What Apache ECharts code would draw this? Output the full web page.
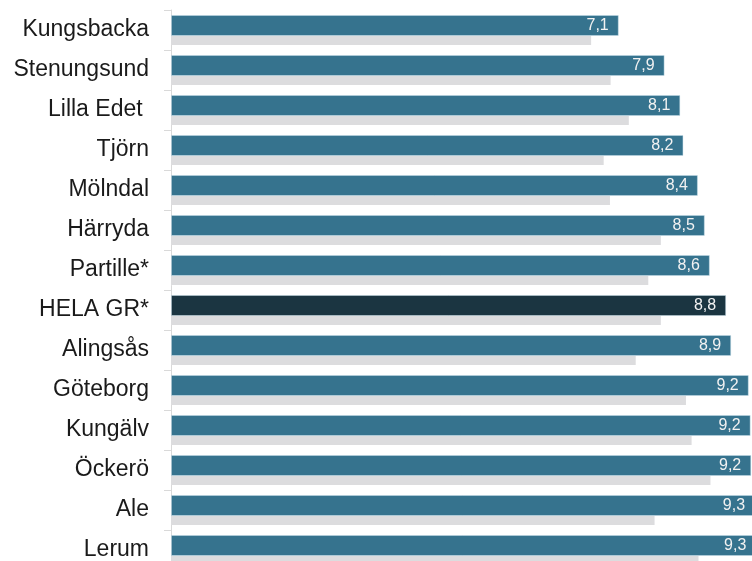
<!DOCTYPE html>
<html>
<head>
<meta charset="utf-8">
<style>
html,body{margin:0;padding:0;background:#fff;}
#chart{width:752px;height:561px;}
</style>
<script src="https://cdn.jsdelivr.net/npm/echarts@6/dist/echarts.min.js"></script>
</head>
<body>
<div id="chart"></div>
<script>
const categories = ['Kungsbacka','Stenungsund','Lilla Edet ','Tjörn','Mölndal','Härryda','Partille*','HELA GR*','Alingsås','Göteborg','Kungälv','Öckerö','Ale','Lerum'];
const currentValues = [7.13, 7.86, 8.11, 8.16, 8.39, 8.50, 8.58, 8.84, 8.92, 9.20, 9.23, 9.24, 9.30, 9.32];
const previousValues = [6.69, 7.00, 7.29, 6.89, 6.99, 7.80, 7.60, 7.80, 7.40, 8.20, 8.29, 8.59, 7.70, 8.40];
const highlightCategory = 'HELA GR*';

const BLUE = '#36738e';
const DARK = '#1b3541';
const GRAY = '#dcdcde';

const chart = echarts.init(document.getElementById('chart'), null, {renderer: 'canvas'});
chart.setOption({
  animation: false,
  backgroundColor: '#ffffff',
  grid: {left: 171, right: -47, top: 10, bottom: -9, containLabel: false, outerBoundsMode: 'none'},
  xAxis: {
    type: 'value', min: 0, max: 10,
    show: false
  },
  yAxis: {
    type: 'category',
    data: categories,
    inverse: true,
    axisLine: {show: true, lineStyle: {color: '#d9d9d9', width: 1}},
    axisTick: {show: true, length: 7, lineStyle: {color: '#d9d9d9'}},
    axisLabel: {
      margin: 22,
      color: '#1a1a1a',
      fontFamily: 'Liberation Sans, Arial, sans-serif',
      fontSize: 23
    },
    splitLine: {show: false}
  },
  series: [
    {
      type: 'bar',
      barWidth: 21,
      barGap: 0,
      clip: false,
      data: currentValues.map((v, i) => ({
        value: v,
        itemStyle: {color: categories[i] === highlightCategory ? DARK : BLUE}
      })),
      itemStyle: {borderColor: 'rgba(200,225,235,0.45)', borderWidth: 1},
      label: {
        show: true,
        position: 'insideRight',
        distance: 10,
        color: '#f2f2f2',
        fontFamily: 'Liberation Sans, Arial, sans-serif',
        fontSize: 16,
        formatter: p => p.value.toFixed(1).replace('.', ',')
      }
    },
    {
      type: 'bar',
      barWidth: 9,
      barGap: 0,
      clip: false,
      data: previousValues,
      itemStyle: {color: GRAY}
    }
  ]
});
</script>
</body>
</html>
